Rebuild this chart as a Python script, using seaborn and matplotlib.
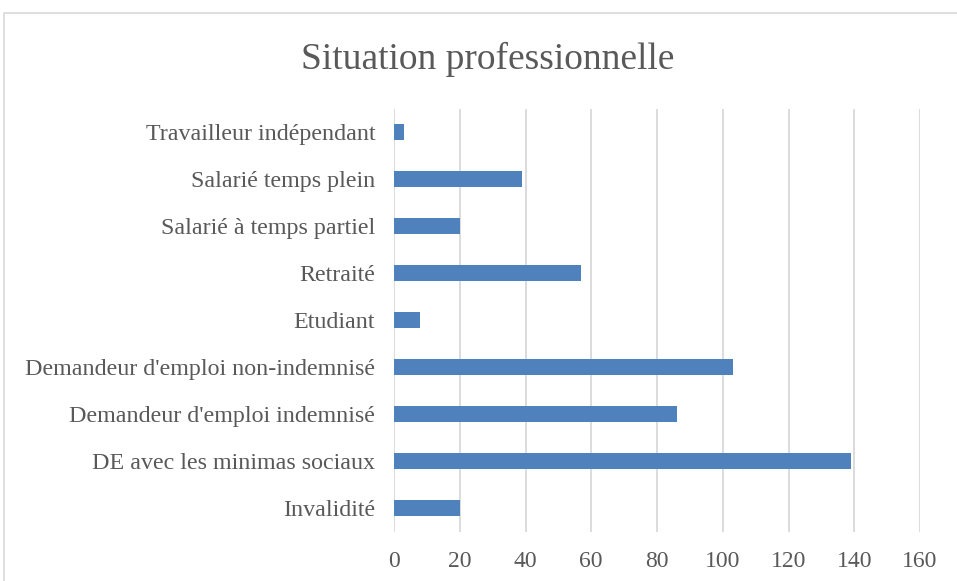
import matplotlib
matplotlib.use("Agg")
import matplotlib.pyplot as plt
from matplotlib.patches import Rectangle
import pandas as pd
import seaborn as sns

categories = [
    "Travailleur indépendant",
    "Salarié temps plein",
    "Salarié à temps partiel",
    "Retraité",
    "Etudiant",
    "Demandeur d'emploi non-indemnisé",
    "Demandeur d'emploi indemnisé",
    "DE avec les minimas sociaux",
    "Invalidité",
]
counts = [3, 39, 20, 57, 8, 103, 86, 139, 20]
x_ticks = [0, 20, 40, 60, 80, 100, 120, 140, 160]

TEXT = "#595959"
GRID = "#D9D9D9"
BAR = "#4F81BD"

sns.set_theme(style="white")
plt.rcParams["font.family"] = ["Liberation Serif", "DejaVu Serif"]

df = pd.DataFrame({"Situation": categories, "Effectif": counts})

fig = plt.figure(figsize=(9.57, 5.81), dpi=100)
ax = fig.add_axes([394 / 957, 1 - 531.5 / 581, (920 - 394) / 957, (531.5 - 108.5) / 581])

sns.barplot(data=df, x="Effectif", y="Situation", orient="h", color=BAR,
            saturation=1, width=0.35, linewidth=0, edgecolor="none", ax=ax)

ax.set_xlim(0, 160)
ax.set_xticks(x_ticks)
ax.xaxis.grid(True, color=GRID, linewidth=1.3)
ax.set_axisbelow(True)
for s in ax.spines.values():
    s.set_visible(False)
ax.tick_params(axis="x", length=0, pad=14, labelsize=17, labelcolor=TEXT)
ax.tick_params(axis="y", length=0, pad=13.5, labelsize=17.3, labelcolor=TEXT)
ax.set_xlabel("")
ax.set_ylabel("")

fig.text(488 / 957, 1 - 59 / 581, "Situation professionnelle", ha="center", va="center",
         fontsize=27, color=TEXT)

# chart area frame (Excel style), cut by the image edges
fig.patches.append(Rectangle((4 / 957, -0.2), 1.2, 0.2 + 1 - 13 / 581,
                             transform=fig.transFigure, fill=False,
                             edgecolor=GRID, linewidth=1.2))

fig.savefig("out.png", dpi=100)
